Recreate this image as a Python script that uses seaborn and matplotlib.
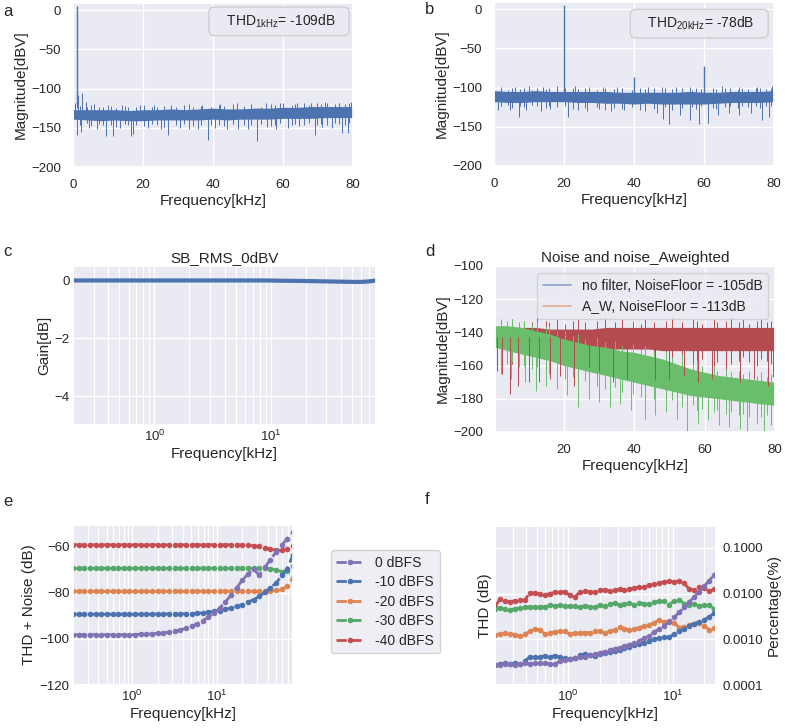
import numpy as np
import matplotlib
matplotlib.use("Agg")
import matplotlib.pyplot as plt
from matplotlib.lines import Line2D
from matplotlib.ticker import FormatStrFormatter
import seaborn as sns

sns.set_theme(style="darkgrid")
plt.rcParams['font.family'] = ['Liberation Sans', 'DejaVu Sans']
plt.rcParams['mathtext.default'] = 'regular'
plt.rcParams['axes.labelsize'] = 11
plt.rcParams['xtick.labelsize'] = 9.5
plt.rcParams['ytick.labelsize'] = 9.5
plt.rcParams['legend.fontsize'] = 10
plt.rcParams['axes.titlesize'] = 11
plt.rcParams['xtick.major.pad'] = 2.5
plt.rcParams['ytick.major.pad'] = 2.5
plt.rcParams['axes.labelpad'] = 2.5
plt.rcParams['axes.titlepad'] = 3

pal = sns.color_palette("deep")

# shared frequencies of the "fuzz" strokes drawn over the noise bands
FUZZ_F = [2.0, 3.9, 5.1, 7.3, 8.6, 10.8, 12.4, 14.9, 15.8, 18.0,
          20.2, 22.7, 24.1, 26.0, 29.3, 31.6, 34.4, 36.6, 39.5, 41.8,
          43.1, 45.7, 48.9, 50.8, 53.6, 56.6, 57.7, 59.2, 62.6, 63.5,
          66.1, 67.4, 69.8, 70.9, 72.6, 74.8, 75.9, 77.7, 79.0]

# ---------------------------------------------------------------- a: 1 kHz spectrum
A_ENV_F = [0, 4, 8, 12, 16, 20, 24, 28, 32, 36, 40, 44, 48, 52, 56, 60, 64, 68, 72, 76, 80]
A_UPPER = [-127, -127, -127, -127, -128, -127, -127, -126, -127, -126, -125, -126, -126, -125, -125, -124, -124, -123, -123, -123, -123]
A_LOWER = [-139, -140, -141, -140, -141, -141, -140, -140, -140, -140, -139, -140, -139, -139, -139, -138, -138, -138, -137, -137, -137]
A_FUZZ_HI = [-122, -124, -121, -123, -124, -122, -125, -122, -124, -123,
             -121, -124, -123, -122, -124, -121, -123, -122, -124, -121,
             -122, -120, -122, -121, -123, -120, -121, -119, -121, -120,
             -119, -121, -119, -120, -118, -120, -119, -120, -118]
A_FUZZ_LO = [-146, -144, -148, -145, -147, -146, -149, -145, -147, -146,
             -148, -145, -147, -149, -146, -145, -148, -146, -147, -146,
             -148, -145, -146, -147, -145, -148, -146, -144, -147, -145,
             -146, -144, -147, -145, -146, -144, -145, -146, -144]
A_DIP_F = [1.2, 2.3, 4.5, 6.8, 9.4, 11.5, 13.5, 16.5, 17.1, 21.5, 25.2, 27.2, 30.5, 33.2, 35.7, 38.7, 40.5, 44.0, 47.2, 50.1, 52.5, 55.3, 58.0, 61.5, 64.7, 69.1, 71.0, 74.0, 76.8, 78.7]
A_DIP_DB = [-159, -155, -150, -152, -161, -161, -150, -161, -158, -150, -152, -159, -150, -152, -152, -165, -150, -152, -151, -152, -167, -149, -151, -150, -148, -159, -149, -150, -157, -157]
A_UP_F = [0.6, 1.5, 2.7, 3.7, 6.0, 10.0, 14.0, 19.0, 23.0, 28.0, 33.0, 37.0, 42.0, 47.0, 51.0, 55.0, 60.0, 64.0, 68.0, 72.0, 76.0, 79.5]
A_UP_DB = [-119, -108, -106, -117, -120, -121, -121, -121, -121, -121, -120, -121, -120, -119, -120, -118, -118, -119, -118, -117, -118, -117]
A_PEAK_F = [1.0]
A_PEAK_DB = [5]

# ---------------------------------------------------------------- b: 20 kHz spectrum
B_ENV_F = [0, 4, 8, 12, 16, 20, 24, 28, 32, 36, 40, 44, 48, 52, 56, 60, 64, 68, 72, 76, 80]
B_UPPER = [-104, -105, -105, -104, -105, -105, -105, -105, -105, -106, -106, -106, -106, -106, -105, -106, -106, -105, -105, -105, -104]
B_LOWER = [-118, -119, -119, -118, -118, -118, -119, -119, -120, -120, -121, -120, -121, -121, -121, -121, -120, -119, -119, -119, -118]
B_FUZZ_HI = [-101, -103, -100, -102, -101, -103, -101, -102, -100, -102,
             -101, -100, -102, -101, -103, -101, -102, -100, -103, -101,
             -102, -101, -100, -102, -101, -103, -100, -102, -101, -102,
             -100, -101, -103, -100, -102, -101, -100, -102, -101]
B_FUZZ_LO = [-124, -122, -126, -123, -125, -122, -124, -126, -123, -125,
             -123, -127, -124, -126, -125, -128, -126, -127, -125, -128,
             -126, -127, -125, -128, -126, -125, -127, -124, -126, -127,
             -125, -124, -126, -123, -125, -124, -126, -123, -124]
B_DIP_F = [1.0, 4.5, 7.2, 9.0, 13.3, 16.0, 21.0, 24.0, 26.5, 30.0, 33.5, 37.0, 43.0, 46.5, 48.2, 50.0, 53.0, 56.0, 58.5, 61.0, 64.0, 67.0, 70.0, 73.5, 76.5, 78.5]
B_DIP_DB = [-128, -128, -137, -128, -130, -127, -137, -128, -130, -127, -130, -128, -130, -133, -140, -147, -135, -142, -146, -145, -135, -132, -135, -133, -142, -138]
B_UP_F = [2, 6, 10, 14, 18, 23, 27, 31, 35, 44, 48, 52, 56, 65, 70, 75, 79.5]
B_UP_DB = [-99, -99, -98, -99, -98, -98, -99, -99, -99, -99, -99, -99, -99, -98, -99, -99, -98]
B_PEAK_F = [20, 40, 60]
B_PEAK_DB = [5, -86, -72]

# ---------------------------------------------------------------- c: gain
FREQ = [0.2, 0.233, 0.272, 0.317, 0.370, 0.431, 0.503, 0.587, 0.684, 0.798,
        0.930, 1.085, 1.265, 1.475, 1.720, 2.006, 2.339, 2.727, 3.180, 3.708,
        4.324, 5.042, 5.879, 6.856, 7.994, 9.322, 10.87, 12.68, 14.78, 17.24,
        20.10, 23.44, 27.33, 31.87, 37.16, 43.33, 50.53, 58.92, 68.70, 80.0]
GAIN = [0.0] * 26 + [-0.005, -0.01, -0.012, -0.015, -0.02, -0.025, -0.03, -0.035,
                     -0.04, -0.045, -0.05, -0.05, -0.035, 0.0]

# ---------------------------------------------------------------- d: noise
D_ENV_F = [0.5, 4, 8, 12, 16, 20, 24, 28, 32, 36, 40, 44, 48, 52, 56, 60, 64, 68, 72, 76, 80]
D_RED_UPPER = [-138, -137, -137, -137, -138, -138, -138, -138, -137, -137, -137, -137, -137, -137, -137, -137, -137, -137, -137, -137, -137]
D_RED_LOWER = [-149, -149, -149, -149, -150, -150, -150, -150, -150, -150, -150, -150, -151, -151, -151, -151, -151, -151, -151, -151, -151]
D_RED_FUZZ_HI = [-133, -134, -132, -135, -133, -134, -131, -133, -134, -132,
                 -135, -133, -132, -134, -133, -131, -134, -132, -133, -135,
                 -132, -134, -133, -131, -134, -132, -133, -135, -132, -134,
                 -133, -131, -134, -132, -135, -133, -132, -134, -133]
D_RED_FUZZ_LO = [-157, -155, -159, -156, -158, -155, -157, -160, -156, -158,
                 -155, -159, -157, -156, -160, -157, -155, -158, -156, -159,
                 -157, -160, -156, -158, -155, -159, -157, -156, -160, -158,
                 -156, -159, -157, -155, -158, -160, -156, -157, -159]
D_RED_SP_F = [1, 2.5, 4.6, 7, 10, 13, 16, 19, 23, 27, 30, 34, 38, 42, 46, 50, 54, 58, 62, 66, 70, 74, 78, 79.5]
D_RED_SP_LO = [-163, -165, -177, -172, -170, -170, -168, -166, -172, -168, -165, -170, -168, -170, -172, -168, -166, -170, -168, -174, -170, -168, -172, -167]
D_GRN_UPPER = [-136, -136, -137, -139, -141, -144, -146, -148, -149, -151, -152, -154, -156, -159, -162, -164, -166, -167, -168, -169, -170]
D_GRN_LOWER = [-149, -151, -153, -155, -157, -160, -162, -164, -166, -168, -170, -172, -174, -176, -178, -179, -180, -181, -182, -183, -184]
D_GRN_FUZZ_HI = [-132, -133, -132, -134, -133, -135, -134, -137, -136, -139,
                 -139, -142, -141, -144, -143, -146, -145, -148, -147, -150,
                 -148, -152, -151, -155, -153, -159, -157, -160, -160, -163,
                 -162, -164, -163, -165, -163, -166, -164, -167, -165]
D_GRN_FUZZ_LO = [-157, -159, -158, -161, -160, -162, -161, -163, -165, -164,
                 -168, -167, -170, -169, -172, -174, -173, -176, -177, -179,
                 -178, -180, -182, -181, -185, -184, -187, -186, -188, -187,
                 -189, -188, -190, -189, -191, -189, -191, -190, -192]
D_GRN_SP_F = [2, 5, 9, 12, 15, 18, 21, 24, 27, 30, 33, 36, 39, 43, 46, 49, 52, 55, 58, 61, 64, 67, 70, 72, 75, 77, 79]
D_GRN_SP_LO = [-165, -168, -170, -175, -172, -174, -178, -185, -180, -182, -185, -183, -187, -192, -190, -188, -192, -200, -195, -193, -196, -197, -198, -200, -195, -200, -196]
D_GRN_SP_HI = [-145, -148, -150, -152, -154, -156, -158, -160, -161, -163, -164, -165, -166, -167, -168, -170, -171, -172, -173, -174, -175, -176, -177, -177, -178, -178, -178]

# ---------------------------------------------------------------- e: THD+N
LEVELS = ['0 dBFS', '-10 dBFS', '-20 dBFS', '-30 dBFS', '-40 dBFS']
THDN_0 = [-98.2] * 11 + [-98.1, -98.0, -97.9, -97.8, -97.6, -97.4, -97.1, -96.7, -96.1,
                         -95.4, -94.5, -93.4, -92.1, -90.5, -88.8, -86.6, -84.0, -81.0, -77.8,
                         -74.6, -71.8, -69.8, -72.3, -69.0, -65.6, -62.3, -59.2, -56.5, -53.8]
THDN_10 = [-89.3] * 15 + [-89.2] * 5 + [-89.1, -89.0, -88.9, -88.7, -88.4, -88.1, -87.7, -87.2, -86.6, -85.9,
                                       -85.1, -84.1, -83.0, -81.6, -79.8, -77.8, -75.8, -72.5, -69.5, -63.5]
THDN_20 = [-79.4] * 34 + [-79.3, -79.2, -79.0, -78.5, -77.0, -73.5]
THDN_30 = [-69.4] * 35 + [-69.6, -70.0, -70.8, -70.6, -68.3]
THDN_40 = [-59.2] * 30 + [-59.3, -59.4, -59.6, -59.9, -60.4, -61.0, -61.5, -61.6, -61.0, -59.5]

# ---------------------------------------------------------------- f: THD (%)
FREQ_F = [0.2, 0.223, 0.249, 0.278, 0.310, 0.346, 0.386, 0.431, 0.481, 0.537,
          0.599, 0.668, 0.746, 0.832, 0.929, 1.036, 1.157, 1.291, 1.440, 1.607,
          1.794, 2.002, 2.234, 2.493, 2.782, 3.105, 3.465, 3.867, 4.315, 4.815,
          5.374, 5.997, 6.693, 7.469, 8.335, 9.302, 10.38, 11.58, 12.93, 14.43,
          16.10, 17.97, 20.05, 22.38, 24.97]
THD_0 = [0.00027, 0.00028, 0.00029, 0.00029, 0.00028, 0.00029, 0.00030, 0.00029, 0.00030, 0.00030,
         0.00030, 0.00029, 0.00029, 0.00033, 0.00036, 0.00037, 0.00038, 0.00040, 0.00042, 0.00045,
         0.00047, 0.00050, 0.00054, 0.00058, 0.00062, 0.00066, 0.00070, 0.00076, 0.00084, 0.00094,
         0.00105, 0.00120, 0.00145, 0.00170, 0.00200, 0.00240, 0.00300, 0.00390, 0.00500, 0.00650,
         0.00850, 0.01100, 0.01450, 0.01900, 0.02600]
THD_10 = [0.00028, 0.00029, 0.00030, 0.00029, 0.00030, 0.00029, 0.00033, 0.00042, 0.00040, 0.00040,
          0.00044, 0.00041, 0.00044, 0.00041, 0.00038, 0.00037, 0.00038, 0.00045, 0.00048, 0.00046,
          0.00044, 0.00047, 0.00050, 0.00052, 0.00055, 0.00059, 0.00063, 0.00068, 0.00074, 0.00079,
          0.00085, 0.00092, 0.00100, 0.00106, 0.00110, 0.00112, 0.00130, 0.00150, 0.00170, 0.00200,
          0.00220, 0.00240, 0.00270, 0.00310, 0.00370]
THD_20 = [0.00125, 0.0013, 0.00135, 0.0013, 0.00125, 0.0012, 0.0013, 0.0015, 0.0017, 0.0016,
          0.0013, 0.0014, 0.00145, 0.0015, 0.0015, 0.0013, 0.00135, 0.0014, 0.0014, 0.0014,
          0.0015, 0.0015, 0.0014, 0.0015, 0.0016, 0.0019, 0.0017, 0.0016, 0.0017, 0.0018,
          0.0020, 0.0021, 0.0023, 0.0027, 0.0024, 0.0025, 0.0023, 0.0018, 0.0019, 0.0021,
          0.0022, 0.0023, 0.0020, 0.0016, 0.0018]
THD_30 = [0.0047, 0.0048, 0.0046, 0.0043, 0.0047, 0.0048, 0.0050, 0.0051, 0.0050, 0.0052,
          0.0051, 0.0055, 0.0054, 0.0055, 0.0054, 0.0053, 0.0053, 0.0052, 0.0054, 0.0052,
          0.0051, 0.0055, 0.0053, 0.0058, 0.0061, 0.0057, 0.0058, 0.0061, 0.0057, 0.0063,
          0.0060, 0.0058, 0.0066, 0.0068, 0.0067, 0.0057, 0.0070, 0.0073, 0.0060, 0.0057,
          0.0058, 0.0054, 0.0055, 0.0057, 0.0045]
THD_40 = [0.0052, 0.0075, 0.0070, 0.0066, 0.0070, 0.0071, 0.0072, 0.0105, 0.0102, 0.0097,
          0.0094, 0.0100, 0.0106, 0.0108, 0.0110, 0.0092, 0.0082, 0.0108, 0.0112, 0.0110,
          0.0106, 0.0118, 0.0120, 0.0115, 0.0121, 0.0124, 0.0120, 0.0128, 0.0132, 0.0138,
          0.0142, 0.0150, 0.0160, 0.0172, 0.0180, 0.0185, 0.0182, 0.0186, 0.0168, 0.0124,
          0.0120, 0.0136, 0.0130, 0.0116, 0.0124]

LEVEL_COLORS = [pal[4], pal[0], pal[1], pal[2], pal[3]]


def px_axes(fig, x0, y0, x1, y1):
    W, H = 785, 728
    return fig.add_axes([x0 / W, 1 - y1 / H, (x1 - x0) / W, (y1 - y0) / H])


def noise_band(ax, env_f, upper, lower, fuzz_lo, fuzz_hi, color):
    ax.fill_between(env_f, lower, upper, color=color, lw=0)
    ax.vlines(FUZZ_F, fuzz_lo, fuzz_hi, color=color, lw=0.7)


def box_text(ax, x, y, s):
    ax.text(x, y, s, transform=ax.transAxes, ha='center', va='center', fontsize=10,
            bbox=dict(boxstyle='round,pad=0.4', fc='#EAEAF2', ec='#cccccc', alpha=0.9))


def spectrum_axes(ax):
    ax.set_xlim(0, 80)
    ax.set_ylim(-200, 9)
    ax.set_xticks([0, 20, 40, 60, 80])
    ax.set_yticks([0, -50, -100, -150, -200])
    ax.set_xlabel('Frequency[kHz]')
    ax.set_ylabel('Magnitude[dBV]')


fig = plt.figure(figsize=(7.85, 7.28), dpi=100)

# a
ax = px_axes(fig, 73, 3, 353, 167)
noise_band(ax, A_ENV_F, A_UPPER, A_LOWER, A_FUZZ_LO, A_FUZZ_HI, pal[0])
ax.vlines(A_DIP_F, A_DIP_DB, -132, color=pal[0], lw=0.7)
ax.vlines(A_UP_F, -132, A_UP_DB, color=pal[0], lw=0.7)
ax.vlines(A_PEAK_F, -125, A_PEAK_DB, color=pal[0], lw=1.0)
spectrum_axes(ax)
box_text(ax, 0.736, 0.888, r'   THD$_{1kHz}$= -109dB   ')

# b
ax = px_axes(fig, 494, 2, 774, 166)
noise_band(ax, B_ENV_F, B_UPPER, B_LOWER, B_FUZZ_LO, B_FUZZ_HI, pal[0])
ax.vlines(B_DIP_F, B_DIP_DB, -112, color=pal[0], lw=0.7)
ax.vlines(B_UP_F, -112, B_UP_DB, color=pal[0], lw=0.7)
ax.vlines(B_PEAK_F, -110, B_PEAK_DB, color=pal[0], lw=1.0)
spectrum_axes(ax)
box_text(ax, 0.733, 0.868, r'   THD$_{20kHz}$= -78dB   ')

# c
ax = px_axes(fig, 73, 266, 376, 425)
sns.lineplot(x=FREQ, y=GAIN, ax=ax, color=pal[0], lw=3)
ax.set_xscale('log')
ax.set_xlim(0.2, 80)
ax.set_ylim(-5, 0.5)
ax.set_yticks([0, -2, -4])
ax.grid(True, which='minor', axis='x', color='white', lw=0.8)
ax.tick_params(which='both', length=0)
ax.set_title('SB_RMS_0dBV')
ax.set_xlabel('Frequency[kHz]')
ax.set_ylabel('Gain[dB]')

# d
ax = px_axes(fig, 495, 266, 775, 432)
red = '#b44b50'
green = '#6abd6a'
noise_band(ax, D_ENV_F, D_RED_UPPER, D_RED_LOWER, D_RED_FUZZ_LO, D_RED_FUZZ_HI, red)
ax.vlines(D_RED_SP_F, D_RED_SP_LO, -143, color=red, lw=0.7)
noise_band(ax, D_ENV_F, D_GRN_UPPER, D_GRN_LOWER, D_GRN_FUZZ_LO, D_GRN_FUZZ_HI, green)
ax.vlines(D_GRN_SP_F, D_GRN_SP_LO, D_GRN_SP_HI, color=green, lw=0.7)
ax.set_xlim(0.4, 80)
ax.set_ylim(-200, -100)
ax.set_xticks([20, 40, 60, 80])
ax.set_yticks([-100, -120, -140, -160, -180, -200])
ax.set_title('Noise and noise_Aweighted')
ax.set_xlabel('Frequency[kHz]')
ax.set_ylabel('Magnitude[dBV]')
h_d = [Line2D([], [], color=pal[0], lw=1.2, alpha=0.6),
       Line2D([], [], color=pal[1], lw=1.2, alpha=0.6)]
ax.legend(h_d, ['no filter, NoiseFloor = -105dB', 'A_W, NoiseFloor = -113dB'],
          loc='upper right')

# e
ax = px_axes(fig, 73, 525, 293, 685)
series_e = [THDN_0, THDN_10, THDN_20, THDN_30, THDN_40]
for name, vals, c in list(zip(LEVELS, series_e, LEVEL_COLORS))[::-1]:
    sns.lineplot(x=FREQ, y=vals, ax=ax, color=c, label=name, legend=False,
                 marker='o', linestyle='--', lw=2, markersize=4, markeredgewidth=0)
ax.set_xscale('log')
ax.set_xlim(0.2, 80)
ax.set_ylim(-120, -50.6)
ax.set_yticks([-60, -80, -100, -120])
ax.grid(True, which='minor', axis='x', color='white', lw=0.8)
ax.tick_params(which='both', length=0)
ax.set_xlabel('Frequency[kHz]')
ax.set_ylabel('THD + Noise (dB)')
handles, labels = ax.get_legend_handles_labels()
ax.legend(handles[::-1], labels[::-1], loc='center left', bbox_to_anchor=(1.14, 0.52),
          labelspacing=0.4)

# f
ax = px_axes(fig, 495, 526, 716, 685)
series_f = [THD_0, THD_10, THD_20, THD_30, THD_40]
for name, vals, c in list(zip(LEVELS, series_f, LEVEL_COLORS))[::-1]:
    sns.lineplot(x=FREQ_F, y=vals, ax=ax, color=c, legend=False,
                 marker='o', linestyle='--', lw=2, markersize=4, markeredgewidth=0)
ax.set_xscale('log')
ax.set_yscale('log')
ax.set_xlim(0.2, 26)
ax.set_ylim(1e-4, 0.3)
ax.tick_params(axis='y', which='both', labelleft=False)
ax.tick_params(which='both', length=0)
ax.grid(True, which='minor', axis='x', color='white', lw=0.8)
ax.set_xlabel('Frequency[kHz]')
ax.set_ylabel('THD (dB)')
ax_r = ax.twinx()
ax_r.set_yscale('log')
ax_r.set_ylim(1e-4, 0.3)
ax_r.grid(False)
ax_r.tick_params(which='both', length=0, pad=5)
ax_r.yaxis.set_major_formatter(FormatStrFormatter('%.4f'))
ax_r.set_ylabel('Percentage(%)', labelpad=2)

for lab, x, y in [('a', 3, 11), ('b', 425, 10), ('c', 3, 251), ('d', 425, 251), ('e', 3, 501), ('f', 425, 500)]:
    fig.text(x / 785, 1 - y / 728, lab, fontsize=12, va='center', ha='left')

fig.savefig('out.png', dpi=100)
